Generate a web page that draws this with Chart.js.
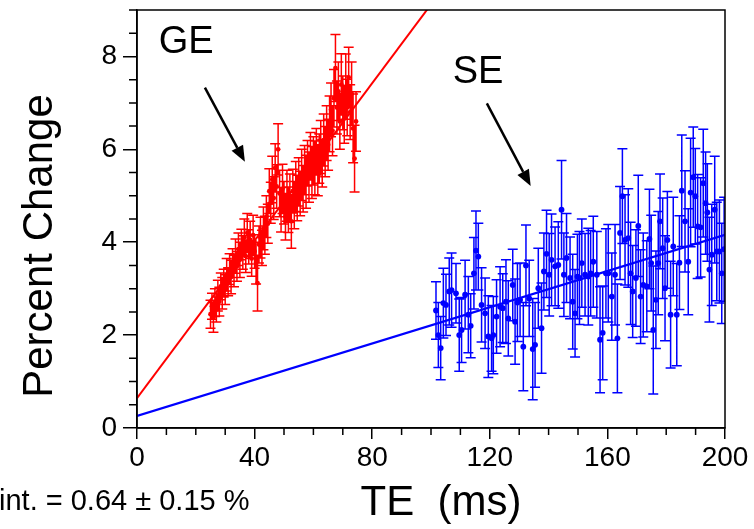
<!DOCTYPE html>
<html><head><meta charset="utf-8">
<script src="https://cdn.jsdelivr.net/npm/chart.js@4/dist/chart.umd.min.js"></script>
<style>html,body{margin:0;padding:0;background:#fff;overflow:hidden}</style>
</head><body>
<canvas id="c" width="754" height="529"></canvas>
<script>
// ---- data ----
const xTicks = [0, 40, 80, 120, 160, 200];
const yTicks = [0, 2, 4, 6, 8];
const geFit = [0.64, 0.0848];   // intercept, slope
const seFit = [0.26, 0.0195];
const fitTE = [0, 200];
const intText = "int. = 0.64 \u00b1 0.15 %";

const geTE = [25,25.5,26,26.5,27,27.5,28,28.5,29,29.5,30,30.5,31,31.5,32,32.5,33,33.5,34,34.5,
35,35.5,36,36.5,37,37.5,38,38.5,39,39.5,40,40.5,41,41.5,42,42.5,43,43.5,44,44.5,
45,45.5,46,46.5,47,47.5,48,48.5,49,49.5,50,50.5,51,51.5,52,52.5,53,53.5,54,54.5,
55,55.5,56,56.5,57,57.5,58,58.5,59,59.5,60,60.5,61,61.5,62,62.5,63,63.5,64,64.5,
65,65.5,66,66.5,67,67.5,68,68.5,69,69.5,70,70.5,71,71.5,72,72.5,73,73.5,74,74.5];
const geVal = [2.45,2.62,2.38,2.70,2.55,2.85,2.72,3.05,2.90,3.12,2.98,3.30,3.15,3.42,3.25,3.55,3.38,3.70,3.48,3.85,
3.62,3.95,3.78,4.10,3.70,4.20,3.90,4.05,3.65,4.15,3.80,3.55,3.12,3.95,4.10,3.88,4.30,4.15,4.55,4.40,
5.10,4.85,5.35,4.95,5.60,5.20,6.00,5.05,4.70,5.15,4.85,4.55,5.00,4.70,4.95,4.45,5.10,4.80,5.20,4.95,
5.30,5.05,5.45,5.15,5.55,5.30,5.70,5.40,5.85,5.50,5.75,5.60,5.95,5.55,5.80,6.05,5.70,6.20,5.95,6.35,
6.10,6.55,6.85,6.40,7.10,7.75,6.90,7.25,6.60,7.40,7.00,6.75,7.35,6.90,7.55,6.80,7.20,6.45,5.80,6.60];
const geErr = [0.30,0.28,0.32,0.30,0.27,0.33,0.31,0.29,0.34,0.30,0.32,0.35,0.30,0.33,0.36,0.31,0.34,0.37,0.32,0.35,
0.38,0.33,0.36,0.40,0.35,0.42,0.37,0.40,0.38,0.43,0.36,0.45,0.60,0.40,0.44,0.38,0.46,0.41,0.45,0.42,
0.48,0.44,0.50,0.46,0.52,0.47,0.55,0.50,0.48,0.53,0.46,0.50,0.55,0.49,0.52,0.58,0.47,0.51,0.54,0.49,
0.52,0.48,0.55,0.50,0.53,0.57,0.49,0.54,0.51,0.56,0.52,0.58,0.50,0.55,0.53,0.57,0.51,0.56,0.54,0.59,
0.55,0.60,0.58,0.54,0.62,0.72,0.57,0.63,0.60,0.66,0.58,0.62,0.70,0.61,0.65,0.59,0.68,0.74,0.72,0.64];

const seTE = [101.7,102.5,103.3,104.2,105.1,106.2,107.0,108.5,109.6,110.4,
111.6,112.7,113.5,114.6,115.3,116.1,117.2,118.4,119.5,120.6,
121.2,122.3,123.5,124.4,125.5,126.3,127.8,128.6,129.4,130.3,
131.4,132.3,133.4,134.6,135.4,136.5,137.6,138.4,139.3,140.2,
141.0,142.2,143.3,144.4,145.2,146.1,147.3,148.2,149.0,149.8,
150.5,151.3,152.4,153.5,154.3,155.2,156.4,157.5,158.4,159.5,
160.3,161.5,162.6,163.4,164.3,165.1,166.0,167.1,167.9,168.6,
169.7,170.5,171.3,172.2,173.4,174.3,174.9,175.6,176.5,177.3,
177.9,178.8,179.6,180.4,181.5,182.4,183.6,184.5,185.3,186.4,
187.5,188.3,189.2,189.9,190.7,191.7,192.6,193.4,194.0,194.7,
195.5,196.5,197.2,198.1,198.9,199.7];
const seVal = [2.53,2.00,1.72,2.69,2.65,2.94,2.97,2.90,2.00,2.11,
2.87,2.44,2.20,3.33,3.82,3.69,2.65,2.47,1.97,1.93,
2.00,2.40,2.61,2.58,2.72,2.36,3.08,2.29,2.70,2.76,
1.75,3.50,2.79,1.70,1.79,3.01,2.15,3.37,3.75,3.30,
3.62,3.48,3.51,4.70,3.30,3.66,3.23,2.72,2.47,3.26,
3.23,3.55,3.30,3.26,3.33,3.58,3.30,1.90,2.05,3.33,
3.33,2.83,3.30,1.93,4.20,4.99,4.05,4.09,3.33,2.94,
3.23,4.35,2.83,3.08,3.05,4.07,3.55,2.11,2.76,3.55,
4.45,3.87,3.01,4.05,2.44,3.91,2.44,3.56,5.11,4.45,
3.58,5.07,5.40,4.99,4.34,4.32,5.27,4.84,4.64,3.41,
3.73,4.70,3.80,3.80,3.33,3.85];
const seErr = [0.62,0.70,0.68,0.75,0.66,0.72,0.80,0.64,0.78,0.70,
0.74,0.82,0.69,0.77,0.85,0.72,0.80,0.76,0.88,0.71,
0.83,0.79,0.86,0.74,0.90,0.81,0.77,0.92,0.84,0.79,
0.95,0.87,0.82,1.09,0.91,0.86,0.97,0.83,0.94,0.89,
0.99,0.85,0.93,1.06,0.90,0.96,0.88,1.02,0.94,0.91,
1.00,0.95,0.89,1.04,0.92,0.98,0.93,1.14,1.01,0.96,
1.05,0.94,1.08,1.17,1.00,1.02,0.97,1.06,1.10,0.99,
1.04,1.09,1.01,1.12,0.98,1.07,1.03,1.38,1.05,1.11,
1.02,1.08,1.13,1.04,1.15,1.06,1.10,1.01,1.20,1.09,
1.14,1.17,1.08,1.03,1.12,1.07,1.16,1.10,1.05,1.13,
1.09,1.15,1.06,1.11,1.08,1.12];

// ---- build ----
const FONT = "'Liberation Sans', Arial, sans-serif";
const RED = '#ff0000', BLUE = '#0000ff';
const pts = (xs, ys) => xs.map((x, i) => ({x: x, y: ys[i]}));
const fitPts = f => fitTE.map(x => ({x: x, y: f[0] + f[1] * x}));

const errorSets = [
  {te: geTE, val: geVal, err: geErr, color: RED},
  {te: seTE, val: seVal, err: seErr, color: BLUE}
];

const extras = {
  id: 'extras',
  beforeDatasetsDraw(chart) {
    const {ctx, chartArea: a, scales: {x, y}} = chart;
    ctx.save();
    ctx.beginPath(); ctx.rect(a.left, a.top, a.right - a.left, a.bottom - a.top); ctx.clip();
    ctx.lineWidth = 1.5;
    errorSets.forEach(s => {
      ctx.strokeStyle = s.color;
      ctx.beginPath();
      s.te.forEach((t, i) => {
        const px = x.getPixelForValue(t);
        const top = y.getPixelForValue(s.val[i] + s.err[i]);
        const bot = y.getPixelForValue(s.val[i] - s.err[i]);
        ctx.moveTo(px, top); ctx.lineTo(px, bot);
        ctx.moveTo(px - 5, top); ctx.lineTo(px + 5, top);
        ctx.moveTo(px - 5, bot); ctx.lineTo(px + 5, bot);
      });
      ctx.stroke();
    });
    ctx.restore();
  },
  afterDraw(chart) {
    const {ctx, chartArea: a, scales: {x, y}} = chart;
    ctx.save();
    // frame
    ctx.strokeStyle = '#000'; ctx.lineWidth = 1.5;
    ctx.strokeRect(a.left, a.top, a.right - a.left, a.bottom - a.top);
    // minor ticks
    ctx.beginPath();
    for (let v = 0; v <= 200; v += 10) {
      if (v % 40 === 0) continue;
      const px = x.getPixelForValue(v);
      ctx.moveTo(px, a.bottom); ctx.lineTo(px, a.bottom + 7);
    }
    for (let v = 0.5; v <= 9; v += 0.5) {
      if (v % 2 === 0) continue;
      const py = y.getPixelForValue(v);
      ctx.moveTo(a.left, py); ctx.lineTo(a.left - 8, py);
    }
    ctx.stroke();
    // axis titles
    ctx.fillStyle = '#000';
    ctx.font = '42px ' + FONT;
    ctx.textAlign = 'center'; ctx.textBaseline = 'middle';
    ctx.fillText('TE  (ms)', 441, 503);
    ctx.save();
    ctx.translate(40, 246); ctx.rotate(-Math.PI / 2);
    ctx.fillText('Percent Change', 0, 0);
    ctx.restore();
    // labels
    ctx.font = '38px ' + FONT;
    ctx.fillText('GE', x.getPixelForValue(16.7), y.getPixelForValue(8.3));
    ctx.fillText('SE', x.getPixelForValue(116.0), y.getPixelForValue(7.65));
    // intercept text
    ctx.font = '29px ' + FONT;
    ctx.textAlign = 'left'; ctx.textBaseline = 'alphabetic';
    ctx.fillText(intText, -1, 510);
    // arrows
    const arrow = (x0, y0, x1, y1) => {
      const X0 = x.getPixelForValue(x0), Y0 = y.getPixelForValue(y0);
      const X1 = x.getPixelForValue(x1), Y1 = y.getPixelForValue(y1);
      const ang = Math.atan2(Y1 - Y0, X1 - X0);
      const L = 16, W = 6.5;
      const bx = X1 - L * Math.cos(ang), by = Y1 - L * Math.sin(ang);
      ctx.strokeStyle = '#000'; ctx.lineWidth = 2.5;
      ctx.beginPath(); ctx.moveTo(X0, Y0); ctx.lineTo(bx, by); ctx.stroke();
      ctx.beginPath();
      ctx.moveTo(X1, Y1);
      ctx.lineTo(bx + W * Math.sin(ang), by - W * Math.cos(ang));
      ctx.lineTo(bx - W * Math.sin(ang), by + W * Math.cos(ang));
      ctx.closePath(); ctx.fillStyle = '#000'; ctx.fill();
    };
    arrow(23.1, 7.33, 36.7, 5.73);
    arrow(119.0, 6.99, 133.9, 5.21);
    ctx.restore();
  }
};

new Chart(document.getElementById('c'), {
  type: 'scatter',
  data: {
    datasets: [
      {label: 'GE fit', type: 'line', data: fitPts(geFit), borderColor: RED, borderWidth: 2, pointRadius: 0, fill: false},
      {label: 'SE fit', type: 'line', data: fitPts(seFit), borderColor: BLUE, borderWidth: 2.4, pointRadius: 0, fill: false},
      {label: 'GE', data: pts(geTE, geVal), backgroundColor: RED, borderColor: RED, pointRadius: 2.4, borderWidth: 0},
      {label: 'SE', data: pts(seTE, seVal), backgroundColor: BLUE, borderColor: BLUE, pointRadius: 2.9, borderWidth: 0}
    ]
  },
  options: {
    responsive: false, animation: false, devicePixelRatio: 1,
    layout: {padding: {top: 10, right: 29, left: 0, bottom: 0}},
    plugins: {legend: {display: false}, tooltip: {enabled: false}},
    scales: {
      x: {
        type: 'linear', min: 0, max: 200,
        afterBuildTicks: s => { s.ticks = xTicks.map(v => ({value: v})); },
        afterFit: s => { s.height = 101; s.paddingLeft = 0; s.paddingRight = 0; },
        ticks: {font: {family: FONT, size: 28}, color: '#000', padding: 2, maxRotation: 0},
        grid: {drawOnChartArea: false, drawTicks: true, tickLength: 11, color: '#000', lineWidth: 1.5},
        border: {display: true, color: '#000', width: 1.5}
      },
      y: {
        type: 'linear', min: 0, max: 9,
        afterBuildTicks: s => { s.ticks = yTicks.map(v => ({value: v})); },
        afterFit: s => { s.width = 137; s.paddingTop = 0; s.paddingBottom = 0; },
        ticks: {font: {family: FONT, size: 28}, color: '#000', padding: 6},
        grid: {drawOnChartArea: false, drawTicks: true, tickLength: 14, color: '#000', lineWidth: 1.5},
        border: {display: true, color: '#000', width: 1.5}
      }
    }
  },
  plugins: [extras]
});
</script>
</body></html>
